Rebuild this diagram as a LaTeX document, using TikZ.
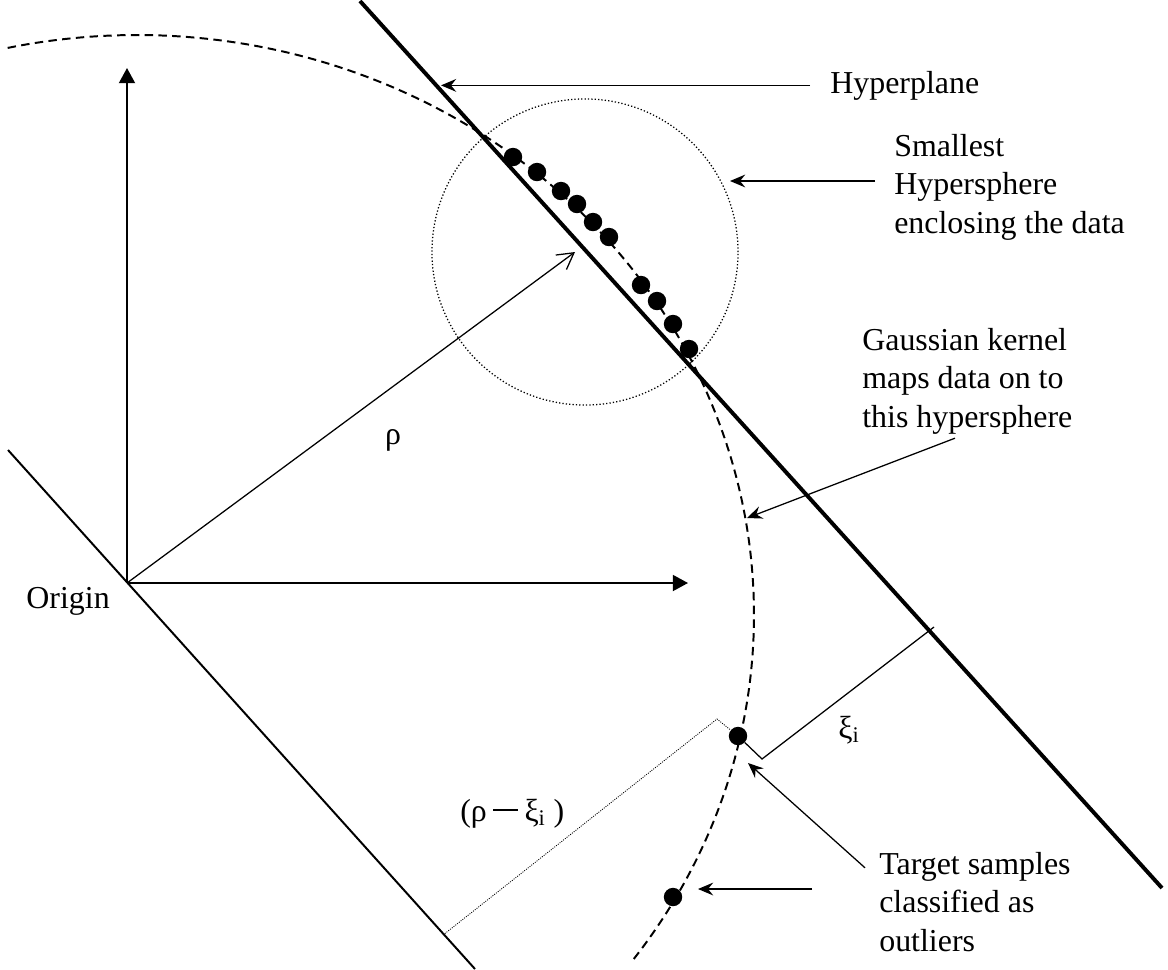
\documentclass[tikz,border=0pt]{standalone}
\usepackage{fontspec}
\setmainfont{Liberation Serif}
\usetikzlibrary{arrows.meta,calc}
\begin{document}
\begin{tikzpicture}[x=0.025cm,y=-0.025cm,
  lbl/.style={font=\fontsize{22.7}{27.3}\selectfont, inner sep=0pt, align=left},
  fineline/.style={line width=0.9pt},
  callout/.style={line width=0.9pt, -{Stealth[length=0.38cm,width=0.32cm,inset=0.13cm]}},
  axisarrow/.style={line width=1.4pt, -{Triangle[length=0.38cm,width=0.4cm]}},
  sample/.style={circle, fill=black, inner sep=0pt, minimum size=0.46cm},
  spheredash/.style={line width=1.4pt, dash pattern=on 6pt off 3.8pt},
  finedots/.style={line width=0.6pt, dash pattern=on 0.7pt off 0.9pt},
  circdots/.style={line width=0.9pt, dash pattern=on 0.9pt off 1.5pt},
]
\useasboundingbox (0,0) rectangle (1168,969);

% coordinates
\coordinate (O) at (127,583);
\coordinate (yTip) at (127,68);
\coordinate (xTip) at (688,583);
\coordinate (rhoTip) at (575,252);
\coordinate (hpA) at (360,1);
\coordinate (hpB) at (1162,888);
\coordinate (lpA) at (8,450);
\coordinate (lpB) at (475,969);

% hyperplane and parallel plane through origin
\draw[line width=2.8pt] (hpA) -- (hpB);
\draw[line width=1.4pt] (lpA) -- (lpB);

% hypersphere (dashed)
\draw[spheredash] plot[domain=-102.1:36.8,samples=150,smooth] ({137+617*cos(\x)},{615+580*sin(\x)});

% smallest enclosing hypersphere (dotted)
\draw[circdots] (585,252) circle[radius=3.825cm];

% axes
\draw[axisarrow] (O) -- (yTip);
\draw[axisarrow] (O) -- (xTip);
\draw[fineline, -{Straight Barb[length=0.4cm,width=0.45cm]}] (O) -- (rhoTip);

% samples
\node[sample] (d1) at (513,157) {};
\node[sample] (d2) at (537,172) {};
\node[sample] (d3) at (561,191) {};
\node[sample] (d4) at (577,204) {};
\node[sample] (d5) at (593,222) {};
\node[sample] (d6) at (609,237) {};
\node[sample] (d7) at (641,285) {};
\node[sample] (d8) at (657,301) {};
\node[sample] (d9) at (673,324) {};
\node[sample] (d10) at (689,349) {};
\node[sample] (o1) at (738,736) {};
\node[sample] (o2) at (673,897) {};

% xi distance
\coordinate (foot) at (762,759);
\coordinate (hpP) at (934,627);
\draw[fineline] (o1) -- (foot) -- (hpP);

% rho - xi distance
\coordinate (lpP) at (443,935);
\coordinate (corner) at (717,719);
\draw[finedots] (lpP) -- (corner) -- (o1);

% labels
\node[lbl, anchor=base east] (orig) at (110,608) {Origin};
\node[lbl] (rho) at (393,440) {ρ};
\node[lbl, anchor=base west] (xi) at (838,738) {ξ\textsubscript{i}};
\node[lbl, anchor=base west] (rx) at (460,821) {(ρ\hspace{0.2em}\rule[0.3em]{0.78em}{0.09em}\hspace{0.2em}ξ\textsubscript{i} )};

\node[lbl, anchor=base west] (hyp) at (830,93) {Hyperplane};
\coordinate (hypT) at (441,86);
\draw[callout, shorten <=0.5cm] (hyp.west) -- (hyp.west -| hypT);

\node[lbl, anchor=base west] (sm) at (894,233) {Smallest\\Hypersphere\\enclosing the data};
\coordinate (smT) at (730,181);
\draw[callout] (sm.west |- smT) ++(-19,0) -- (smT);

\node[lbl, anchor=base west] (ga) at (862,427) {Gaussian kernel\\maps data on to\\this hypersphere};
\coordinate (gaT) at (747,518);
\draw[callout] ($(ga.south west)+(93,4)$) -- (gaT);

\node[lbl, anchor=base west] (tg) at (879,951) {Target samples\\classified as\\outliers};
\coordinate (tgT1) at (748,763);
\coordinate (tgT2) at (698,889);
\draw[callout] ($(tg.north west)+(-14,16)$) -- (tgT1);
\draw[callout] ($(tg.north west |- tgT2)+(-67,0)$) -- (tgT2);
\end{tikzpicture}
\end{document}
